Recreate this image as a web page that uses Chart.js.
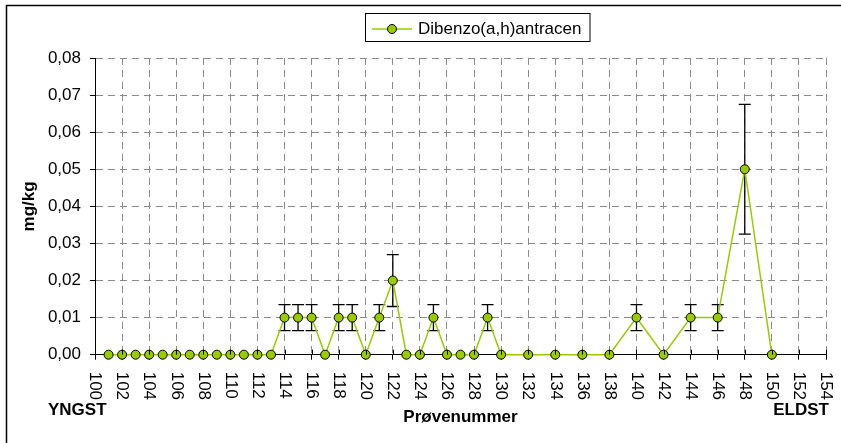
<!DOCTYPE html>
<html>
<head>
<meta charset="utf-8">
<title>Dibenzo(a,h)antracen</title>
<script src="https://cdn.jsdelivr.net/npm/chart.js@4.4.1/dist/chart.umd.min.js"></script>
<style>
  body { margin: 0; background: #fff; }
  canvas { display: block; }
</style>
</head>
<body>
<canvas id="myChart" width="841" height="443"></canvas>
<script>
// sample number (x) and measured concentration in mg/kg (y)
const sampleNo = [101, 102, 103, 104, 105, 106, 107, 108, 109, 110,
  111, 112, 113, 114, 115, 116, 117, 118, 119, 120,
  121, 122, 123, 124, 125, 126, 127, 128, 129, 130,
  132, 134, 136, 138, 140, 142, 144, 146, 148, 150];
const conc = [0, 0, 0, 0, 0, 0, 0, 0, 0, 0,
  0, 0, 0, 0.01, 0.01, 0.01, 0, 0.01, 0.01, 0,
  0.01, 0.02, 0, 0, 0.01, 0, 0, 0, 0.01, 0,
  0, 0, 0, 0, 0.01, 0, 0.01, 0.01, 0.05, 0];
// +/- uncertainty for each sample
const err = [0, 0, 0, 0, 0, 0, 0, 0, 0, 0,
  0, 0, 0, 0.0035, 0.0035, 0.0035, 0, 0.0035, 0.0035, 0,
  0.0035, 0.007, 0, 0, 0.0035, 0, 0, 0, 0.0035, 0,
  0, 0, 0, 0, 0.0035, 0, 0.0035, 0.0035, 0.0175, 0];

const seriesName = 'Dibenzo(a,h)antracen';
const xTitle = 'Prøvenummer';
const yTitle = 'mg/kg';
const leftNote = 'YNGST';
const rightNote = 'ELDST';

const FONT = '"Liberation Sans", Arial, sans-serif';
const GREEN = '#99CC00';
const GRID = '#8a8a8a';

const ctx = document.getElementById('myChart');

// frame, legend box, error bars, rotated x labels and end notes
const extras = {
  id: 'extras',
  beforeDraw(chart) {
    const c = chart.ctx;
    c.save();
    c.fillStyle = '#fff';
    c.fillRect(0, 0, chart.width, chart.height);
    c.strokeStyle = '#000';
    c.lineWidth = 1.5;
    c.strokeRect(6.5, 5.5, chart.width + 10, chart.height + 10);
    c.restore();
  },
  beforeDatasetsDraw(chart) {
    const c = chart.ctx;
    const xs = chart.scales.x, ys = chart.scales.y;
    c.save();
    c.strokeStyle = '#000';
    c.lineWidth = 1.3;
    sampleNo.forEach((n, i) => {
      if (!err[i]) return;
      const px = xs.getPixelForValue(n);
      const top = ys.getPixelForValue(conc[i] + err[i]);
      const bot = ys.getPixelForValue(conc[i] - err[i]);
      c.beginPath();
      c.moveTo(px, top); c.lineTo(px, bot);
      c.moveTo(px - 6, top); c.lineTo(px + 6, top);
      c.moveTo(px - 6, bot); c.lineTo(px + 6, bot);
      c.stroke();
    });
    c.restore();
  },
  afterDraw(chart) {
    const c = chart.ctx;
    const xs = chart.scales.x;
    const area = chart.chartArea;
    c.save();
    // inner half of the x tick marks
    c.strokeStyle = '#000';
    c.lineWidth = 1;
    xs.ticks.forEach(t => {
      const px = Math.round(xs.getPixelForValue(t.value)) + 0.5;
      c.beginPath();
      c.moveTo(px, area.bottom - 5);
      c.lineTo(px, area.bottom);
      c.stroke();
    });
    // x tick labels, reading downwards
    c.fillStyle = '#000';
    c.font = '17px ' + FONT;
    c.textAlign = 'left';
    c.textBaseline = 'middle';
    xs.ticks.forEach(t => {
      const px = xs.getPixelForValue(t.value);
      c.save();
      c.translate(px, area.bottom + 17);
      c.rotate(Math.PI / 2);
      c.fillText(String(t.value), 0, 0);
      c.restore();
    });
    // end notes
    c.font = 'bold 17px ' + FONT;
    c.textBaseline = 'alphabetic';
    c.textAlign = 'left';
    c.fillText(leftNote, 48, 415);
    c.textAlign = 'right';
    c.fillText(rightNote, 829, 415);
    // legend
    c.fillStyle = '#fff';
    c.fillRect(365.5, 13.5, 224.5, 28);
    c.strokeStyle = '#000';
    c.lineWidth = 1;
    c.strokeRect(365.5, 13.5, 224.5, 28);
    c.strokeStyle = GREEN;
    c.lineWidth = 1.5;
    c.beginPath();
    c.moveTo(372, 29); c.lineTo(412, 29);
    c.stroke();
    c.beginPath();
    c.arc(392, 29, 4.5, 0, Math.PI * 2);
    c.fillStyle = GREEN;
    c.fill();
    c.strokeStyle = '#000';
    c.lineWidth = 1;
    c.stroke();
    c.fillStyle = '#000';
    c.font = '17px ' + FONT;
    c.textAlign = 'left';
    c.textBaseline = 'middle';
    c.fillText(seriesName, 418, 29);
    c.restore();
  }
};

new Chart(ctx, {
  type: 'scatter',
  data: {
    datasets: [{
      label: seriesName,
      data: sampleNo.map((n, i) => ({ x: n, y: conc[i] })),
      showLine: true,
      borderColor: GREEN,
      borderWidth: 1.5,
      backgroundColor: GREEN,
      pointRadius: 4.5,
      pointHoverRadius: 4.5,
      pointBorderColor: '#000',
      pointBorderWidth: 1,
      clip: false
    }]
  },
  options: {
    responsive: false,
    animation: false,
    devicePixelRatio: 1,
    layout: { padding: { top: 58, right: 15, left: 10, bottom: 0 } },
    plugins: {
      legend: { display: false },
      tooltip: { enabled: false }
    },
    scales: {
      x: {
        type: 'linear',
        min: 100,
        max: 154,
        ticks: { stepSize: 2, display: false },
        grid: { color: GRID, tickColor: '#000', tickLength: 5, lineWidth: 1 },
        border: { color: '#000', width: 1, dash: [7, 5] },
        title: {
          display: true,
          text: xTitle,
          color: '#000',
          font: { family: FONT, size: 17, weight: 'bold' },
          padding: { top: 0, bottom: 15 }
        },
        afterFit(scale) { scale.height = 88.3; }
      },
      y: {
        min: 0,
        max: 0.08,
        ticks: {
          stepSize: 0.01,
          padding: 9,
          color: '#000',
          font: { family: FONT, size: 17 },
          callback: v => v.toFixed(2).replace('.', ',')
        },
        grid: { color: GRID, tickColor: '#000', tickLength: 5, lineWidth: 1 },
        border: { color: '#000', width: 1, dash: [7, 5] },
        title: {
          display: true,
          text: yTitle,
          color: '#000',
          font: { family: FONT, size: 17, weight: 'bold' },
          padding: { top: 9, bottom: 0 }
        },
        afterFit(scale) { scale.width = 85; }
      }
    }
  },
  plugins: [extras]
});
</script>
</body>
</html>
